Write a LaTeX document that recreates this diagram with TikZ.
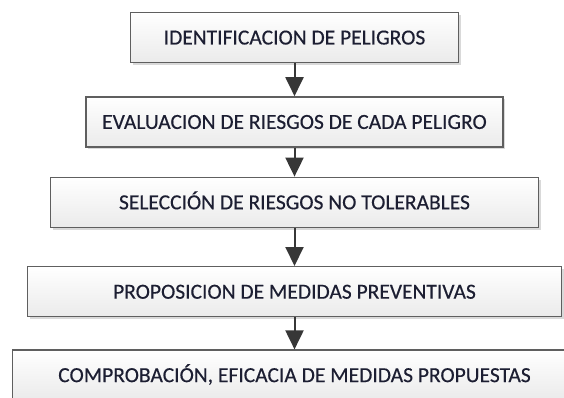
\documentclass[tikz,border=0pt]{standalone}
\usepackage{fontspec}
\setmainfont{Carlito}
\newfontfamily\stagefont{Carlito}[FakeBold=0.35]
\usetikzlibrary{arrows.meta,positioning,shadows}
\definecolor{ink}{RGB}{28,30,50}
\definecolor{edge}{RGB}{95,95,95}
\definecolor{shaft}{RGB}{55,55,55}
\tikzset{
  >={Triangle[length=19pt,width=18pt]},
  stage/.style={draw=edge,line width=1.4pt,top color=white,bottom color=gray!16,
    minimum height=50pt,minimum width=#1,inner sep=0pt,text=ink,
    font=\stagefont\fontsize{21.5}{24}\selectfont,text height=14pt,text depth=0pt,
    drop shadow={shadow xshift=2pt,shadow yshift=-2.5pt,opacity=0.3}},
  flow/.style={->,line width=2pt,draw=shaft},
}
\begin{document}
\begin{tikzpicture}[x=1pt,y=1pt]
  \useasboundingbox (0,0) rectangle (564,-398);
  % steps of the procedure
  \node[stage=328pt] (ident) at (294.5,-37.5) {IDENTIFICACION DE PELIGROS};
  \node[stage=417pt,below=33pt of ident] (evalua) {EVALUACION DE RIESGOS DE CADA PELIGRO};
  \node[stage=488pt,below=29pt of evalua] (selec) {SELECCIÓN DE RIESGOS NO TOLERABLES};
  \node[stage=534pt,below=38pt of selec] (propo) {PROPOSICION DE MEDIDAS PREVENTIVAS};
  \node[stage=564pt,below=32pt of propo] (compro) {COMPROBACIÓN, EFICACIA DE MEDIDAS PROPUESTAS};
  % connectors
  \draw[flow] (ident.south) -- (evalua.north);
  \draw[flow] (evalua.south) -- (selec.north);
  \draw[flow] (selec.south) -- (propo.north);
  \draw[flow] (propo.south) -- (compro.north);
\end{tikzpicture}
\end{document}
